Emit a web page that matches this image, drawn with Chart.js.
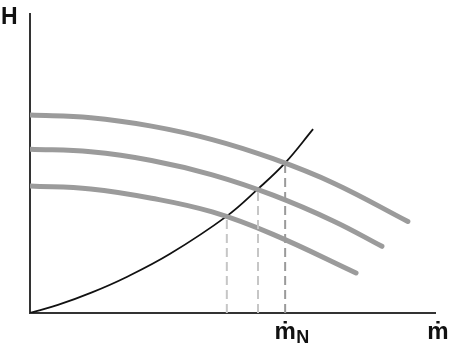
<!DOCTYPE html>
<html>
<head>
<meta charset="utf-8">
<script src="https://cdn.jsdelivr.net/npm/chart.js@4"></script>
<style>
  html, body { margin: 0; padding: 0; background: #fff; }
  #wrap { width: 455px; height: 349px; }
</style>
</head>
<body>
<div id="wrap"><canvas id="pumpChart" width="455" height="349"></canvas></div>
<script>
// pump curves (flow, head)
const pumpFlowHigh = [0, 15, 30, 45, 60, 75, 93.3];
const pumpHeadHigh = [66.2, 65.3, 62.5, 58.0, 51.6, 43.4, 30.6];
const pumpFlowMid = [0, 15, 30, 45, 60, 75, 86.9];
const pumpHeadMid = [54.8, 53.9, 51.0, 46.2, 39.4, 30.7, 22.3];
const pumpFlowLow = [0, 15, 30, 45, 60, 80.5];
const pumpHeadLow = [42.5, 41.5, 38.4, 33.8, 26.3, 13.4];

// system curve
const sysFlow = [0, 6.9, 15.3, 23.5, 34.6, 48.6, 56.3, 63.0, 69.9];
const sysHead = [0, 2.7, 6.9, 11.8, 19.8, 32.4, 41.5, 50.2, 61.5];

// operating points (intersections)
const opFlow = [48.6, 56.3, 63.0];
const opHead = [32.4, 41.5, 50.2];
const opColors = ["#c6c6c6", "#c6c6c6", "#9a9a9a"];

const axisLabelY = "H";
const axisLabelX = "ṁ";
const nominalLabel = "ṁ";
const nominalSub = "N";

function toPoints(xs, ys) {
  return xs.map((x, i) => ({ x: x, y: ys[i] }));
}

const datasets = [];

// dashed drop lines
opFlow.forEach((f, i) => {
  datasets.push({
    data: [{ x: f, y: 0 }, { x: f, y: opHead[i] }],
    borderColor: opColors[i],
    borderWidth: 2,
    borderDash: [9, 5],
    pointRadius: 0,
    fill: false,
  });
});

[[pumpFlowHigh, pumpHeadHigh], [pumpFlowMid, pumpHeadMid], [pumpFlowLow, pumpHeadLow]].forEach(([xs, ys]) => {
  datasets.push({
    data: toPoints(xs, ys),
    borderColor: "#9b9b9b",
    borderWidth: 5,
    borderCapStyle: "round",
    pointRadius: 0,
    tension: 0.4,
    fill: false,
  });
});

datasets.push({
  data: toPoints(sysFlow, sysHead),
  borderColor: "#111",
  borderWidth: 1.8,
  pointRadius: 0,
  tension: 0.4,
  fill: false,
});

// axis letters drawn on the canvas
const labelPlugin = {
  id: "axisLetters",
  afterDraw(chart) {
    const ctx = chart.ctx;
    const xs = chart.scales.x;
    const area = chart.chartArea;
    const fam = "'Liberation Sans', 'DejaVu Sans', sans-serif";
    ctx.save();
    ctx.fillStyle = "#111";
    ctx.textBaseline = "alphabetic";
    ctx.font = "bold 23px " + fam;
    ctx.textAlign = "left";
    ctx.fillText(axisLabelY, 1, 24);

    ctx.font = "bold 24px " + fam;
    const nx = xs.getPixelForValue(opFlow[2]);
    ctx.textAlign = "center";
    ctx.fillText(nominalLabel, nx, area.bottom + 26);
    ctx.font = "bold 18px " + fam;
    ctx.textAlign = "left";
    ctx.fillText(nominalSub, nx + 11, area.bottom + 30);

    ctx.font = "bold 24px " + fam;
    ctx.textAlign = "center";
    ctx.fillText(axisLabelX, area.right + 3, area.bottom + 26);
    ctx.restore();
  },
};

new Chart(document.getElementById("pumpChart"), {
  type: "line",
  data: { datasets: datasets },
  options: {
    responsive: false,
    animation: false,
    layout: { padding: { left: 30, top: 14, right: 20, bottom: 36 } },
    plugins: { legend: { display: false }, tooltip: { enabled: false } },
    scales: {
      x: {
        type: "linear",
        min: 0,
        max: 100,
        grid: { display: false, drawTicks: false },
        ticks: { display: false },
        border: { display: true, color: "#333", width: 2 },
      },
      y: {
        min: 0,
        max: 100,
        grid: { display: false, drawTicks: false },
        ticks: { display: false },
        border: { display: true, color: "#333", width: 2 },
      },
    },
  },
  plugins: [labelPlugin],
});
</script>
</body>
</html>
